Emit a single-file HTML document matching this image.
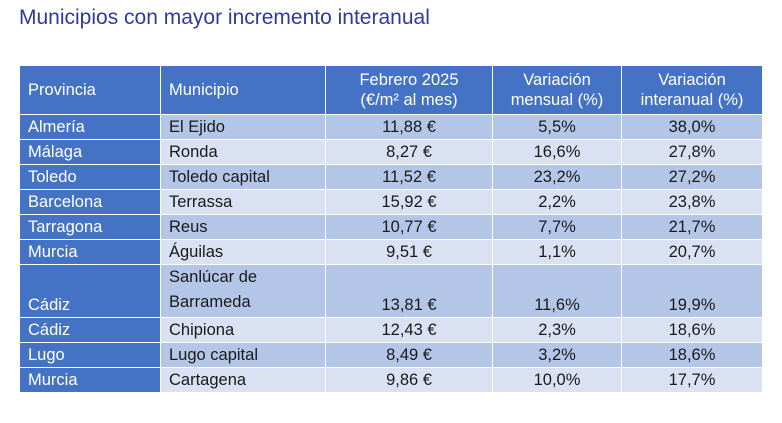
<!DOCTYPE html>
<html><head><meta charset="utf-8"><style>
body{margin:0;width:782px;height:423px;background:#fff;position:relative;overflow:hidden;font-family:"Liberation Sans",sans-serif;}
.title{position:absolute;left:19px;top:6px;font-size:21px;color:#2E3A9E;}
table{position:absolute;left:19px;top:65px;border-collapse:collapse;table-layout:fixed;width:743px;font-size:16.5px;}
td,th{border:1px solid #fff;padding:0 8px;line-height:20px;color:#1a1a1a;font-weight:normal;}
th{background:#4472C4;color:#fff;height:48px;text-align:center;}
th.l{text-align:left;}
td.p{background:#4472C4;color:#fff;vertical-align:bottom;padding-bottom:2px;}
td{vertical-align:bottom;padding-bottom:2px;}
tr.a td:not(.p){background:#B4C6E7;}
tr.b td:not(.p){background:#D9E1F2;}
td.c{text-align:center;}
tr.r td{height:22px;}
</style></head><body>
<div class="title">Municipios con mayor incremento interanual</div>
<table>
<colgroup><col style="width:141px"><col style="width:165px"><col style="width:167px"><col style="width:129px"><col style="width:141px"></colgroup>
<tr><th class="l">Provincia</th><th class="l">Municipio</th><th>Febrero 2025<br>(€/m² al mes)</th><th>Variación<br>mensual (%)</th><th>Variación<br>interanual (%)</th></tr>
<tr class="a r"><td class="p">Almería</td><td>El Ejido</td><td class="c">11,88 €</td><td class="c">5,5%</td><td class="c">38,0%</td></tr>
<tr class="b r"><td class="p">Málaga</td><td>Ronda</td><td class="c">8,27 €</td><td class="c">16,6%</td><td class="c">27,8%</td></tr>
<tr class="a r"><td class="p">Toledo</td><td>Toledo capital</td><td class="c">11,52 €</td><td class="c">23,2%</td><td class="c">27,2%</td></tr>
<tr class="b r"><td class="p">Barcelona</td><td>Terrassa</td><td class="c">15,92 €</td><td class="c">2,2%</td><td class="c">23,8%</td></tr>
<tr class="a r"><td class="p">Tarragona</td><td>Reus</td><td class="c">10,77 €</td><td class="c">7,7%</td><td class="c">21,7%</td></tr>
<tr class="b r"><td class="p">Murcia</td><td>Águilas</td><td class="c">9,51 €</td><td class="c">1,1%</td><td class="c">20,7%</td></tr>
<tr class="a"><td class="p" style="height:47px">Cádiz</td><td style="line-height:25px">Sanlúcar de<br>Barrameda</td><td class="c">13,81 €</td><td class="c">11,6%</td><td class="c">19,9%</td></tr>
<tr class="b r"><td class="p">Cádiz</td><td>Chipiona</td><td class="c">12,43 €</td><td class="c">2,3%</td><td class="c">18,6%</td></tr>
<tr class="a r"><td class="p">Lugo</td><td>Lugo capital</td><td class="c">8,49 €</td><td class="c">3,2%</td><td class="c">18,6%</td></tr>
<tr class="b r"><td class="p">Murcia</td><td>Cartagena</td><td class="c">9,86 €</td><td class="c">10,0%</td><td class="c">17,7%</td></tr>
</table>
</body></html>
